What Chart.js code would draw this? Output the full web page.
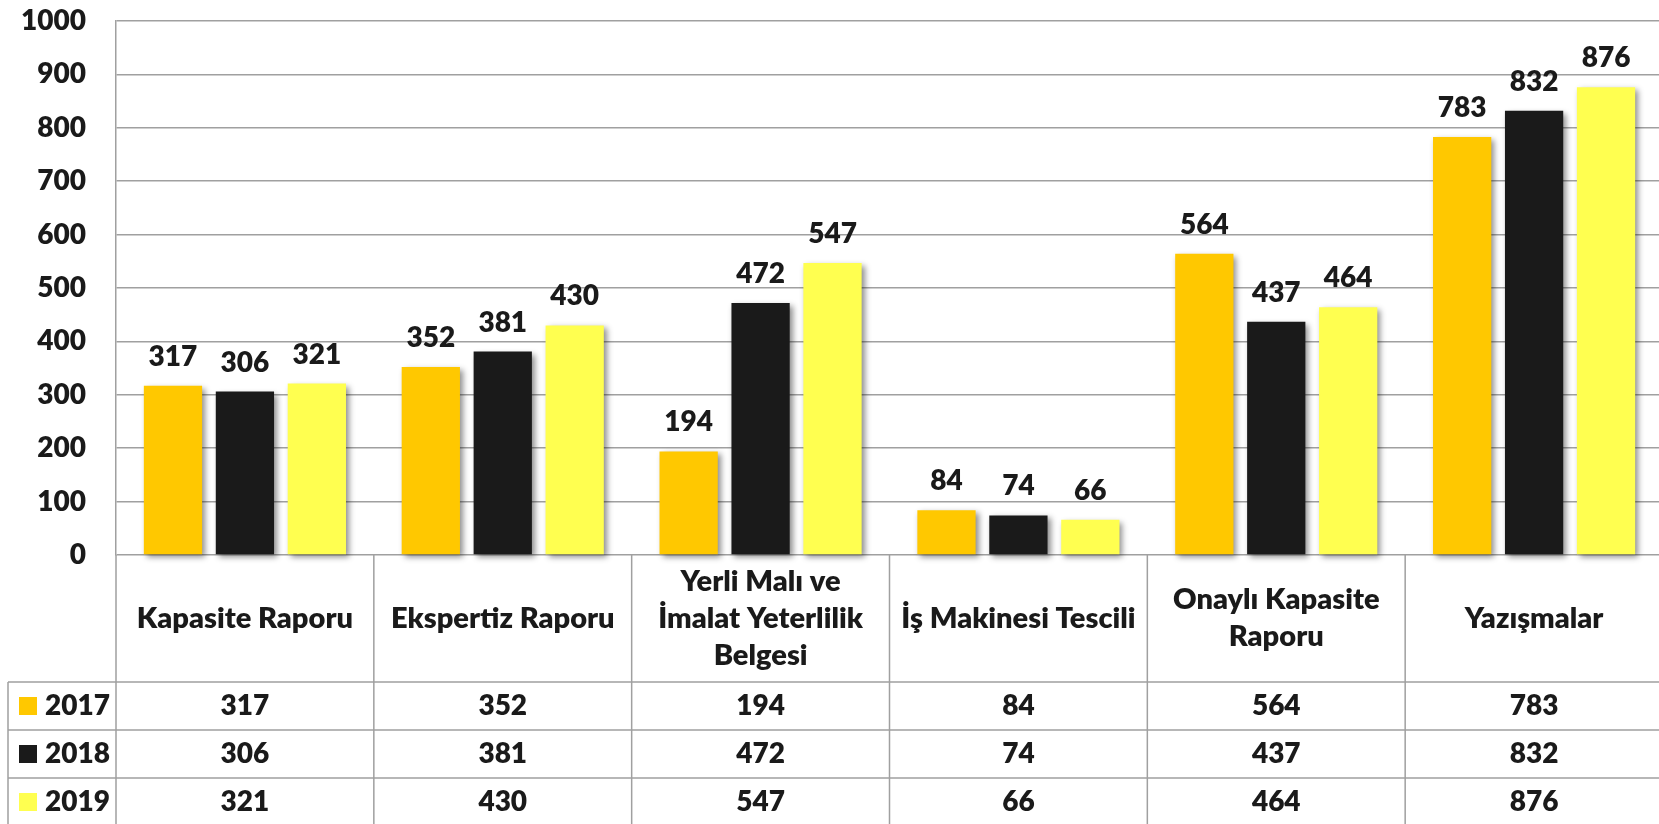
<!DOCTYPE html>
<html>
<head>
<meta charset="utf-8">
<title>Kapasite Raporu 2017-2019</title>
<script src="https://cdn.jsdelivr.net/npm/chart.js@4.4.1/dist/chart.umd.min.js"></script>
<style>
  html, body { margin: 0; padding: 0; background: #fff; overflow: hidden; }
  #chart { display: block; }
</style>
</head>
<body>
<canvas id="chart" width="1663" height="824" aria-label="Bar Chart"></canvas>
<script>
const categories = [
  'Kapasite Raporu',
  'Ekspertiz Raporu',
  ['Yerli Malı ve', 'İmalat Yeterlilik', 'Belgesi'],
  'İş Makinesi Tescili',
  ['Onaylı Kapasite', 'Raporu'],
  'Yazışmalar'
];
const years = ['2017', '2018', '2019'];
const values2017 = [317, 352, 194, 84, 564, 783];
const values2018 = [306, 381, 472, 74, 437, 832];
const values2019 = [321, 430, 547, 66, 464, 876];
const yMin = 0;
const yMax = 1000;
const yStep = 100;

const colors = ['#FFC800', '#1A1A1A', '#FFFF50'];
const textColor = '#1a1a1a';
const lineColor = '#a0a0a0';
const fontFamily = 'Lato, "Open Sans", sans-serif';
const fontWeight = '800';

// table rows under the plot (header row + one row per year)
const headerBottom = 682;
const rowHeight = 48;
const legendLeft = 8;

const excelTable = {
  id: 'excelTable',
  beforeDatasetsDraw(chart) {
    const ctx = chart.ctx;
    ctx.save();
    ctx.shadowColor = 'rgba(0,0,0,0.45)';
    ctx.shadowBlur = 6;
    ctx.shadowOffsetX = 3;
    ctx.shadowOffsetY = 3;
  },
  afterDatasetsDraw(chart) {
    const ctx = chart.ctx;
    ctx.restore();
    ctx.save();
    ctx.fillStyle = textColor;
    ctx.font = fontWeight + ' 28px ' + fontFamily;
    ctx.textAlign = 'center';
    ctx.textBaseline = 'alphabetic';
    chart.data.datasets.forEach((ds, i) => {
      chart.getDatasetMeta(i).data.forEach((bar, j) => {
        ctx.fillText(ds.data[j], bar.x, bar.y - 20);
      });
    });
    ctx.restore();
  },
  afterDraw(chart) {
    const ctx = chart.ctx;
    const x = chart.scales.x;
    const area = chart.chartArea;
    const bottom = chart.height;
    const right = area.right;
    ctx.save();
    ctx.strokeStyle = lineColor;
    ctx.lineWidth = 1.5;

    ctx.beginPath();
    // category borders
    for (let i = 0; i < categories.length; i++) {
      const bx = x.getPixelForValue(i - 0.5);
      ctx.moveTo(bx, area.bottom);
      ctx.lineTo(bx, bottom);
    }
    // legend column
    ctx.moveTo(legendLeft, headerBottom);
    ctx.lineTo(legendLeft, bottom);
    // row lines
    for (let r = 0; r < years.length; r++) {
      const y = headerBottom + r * rowHeight;
      ctx.moveTo(legendLeft, y);
      ctx.lineTo(right, y);
    }
    ctx.stroke();

    ctx.fillStyle = textColor;
    ctx.textAlign = 'center';
    ctx.textBaseline = 'middle';

    // category labels
    ctx.font = fontWeight + ' 29px ' + fontFamily;
    const headerMid = (area.bottom + headerBottom) / 2;
    categories.forEach((label, i) => {
      const lines = Array.isArray(label) ? label : [label];
      const cx = x.getPixelForTick(i);
      const lh = 37;
      lines.forEach((line, k) => {
        ctx.fillText(line, cx, headerMid + (k - (lines.length - 1) / 2) * lh);
      });
    });

    // values
    ctx.font = fontWeight + ' 28px ' + fontFamily;
    chart.data.datasets.forEach((ds, r) => {
      const cy = headerBottom + r * rowHeight + rowHeight / 2;
      ds.data.forEach((v, i) => {
        ctx.fillText(v, x.getPixelForTick(i), cy);
      });
      // legend key
      ctx.fillStyle = ds.backgroundColor;
      ctx.fillRect(19, cy - 9, 18, 18);
      ctx.fillStyle = textColor;
      ctx.textAlign = 'left';
      ctx.fillText(ds.label, 45, cy);
      ctx.textAlign = 'center';
    });
    ctx.restore();
  }
};

const seriesValues = [values2017, values2018, values2019];

new Chart(document.getElementById('chart'), {
  type: 'bar',
  data: {
    labels: categories,
    datasets: years.map((year, i) => ({
      label: year,
      data: seriesValues[i],
      backgroundColor: colors[i],
      categoryPercentage: 0.837,
      barPercentage: 0.81,
      clip: false
    }))
  },
  options: {
    responsive: false,
    animation: false,
    devicePixelRatio: 1,
    layout: { padding: { top: 21, right: 0, bottom: 269, left: 0 } },
    plugins: {
      legend: { display: false },
      tooltip: { enabled: false }
    },
    scales: {
      x: { display: false },
      y: {
        min: yMin,
        max: yMax,
        ticks: {
          stepSize: yStep,
          padding: 0,
          color: textColor,
          font: { family: fontFamily, size: 28, weight: fontWeight },
          callback: (v) => String(v)
        },
        grid: { color: lineColor, lineWidth: 1.5, drawTicks: true, tickLength: 30, tickColor: 'rgba(0,0,0,0)' },
        border: { display: true, color: lineColor, width: 1.5 },
        afterFit(scale) { scale.width = 116; }
      }
    }
  },
  plugins: [excelTable]
});
</script>
</body>
</html>
